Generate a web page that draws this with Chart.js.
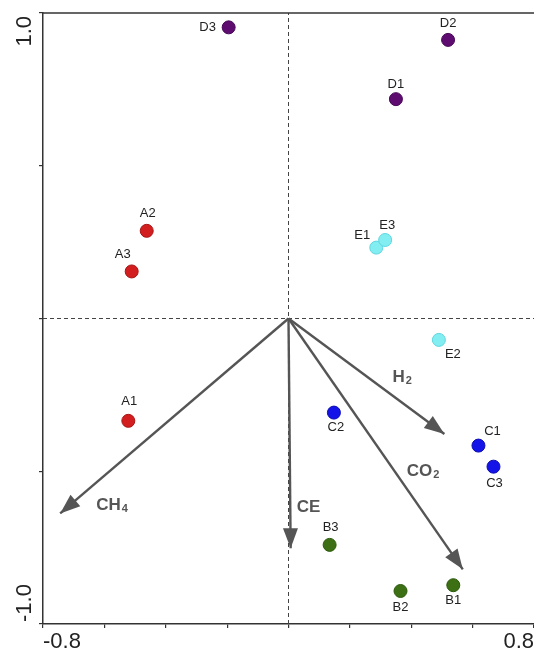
<!DOCTYPE html>
<html>
<head>
<meta charset="utf-8">
<script src="https://cdn.jsdelivr.net/npm/chart.js@4.4.1/dist/chart.umd.min.js"></script>
<style>
  html, body { margin: 0; padding: 0; background: #fff; overflow: hidden; }
  #wrap { width: 534px; height: 654px; position: relative; }
</style>
</head>
<body>
<div id="wrap"><canvas id="myChart"></canvas></div>
<script>
// sample scores (axis 1, axis 2)
const sampleLabels = ['A1', 'A2', 'A3', 'B1', 'B2', 'B3', 'C1', 'C2', 'C3', 'D1', 'D2', 'D3', 'E1', 'E2', 'E3'];
const axis1 = [-0.522, -0.462, -0.511, 0.537, 0.365, 0.134, 0.619, 0.148, 0.668, 0.350, 0.520, -0.195, 0.286, 0.490, 0.315];
const axis2 = [-0.335, 0.287, 0.154, -0.873, -0.892, -0.741, -0.416, -0.308, -0.485, 0.718, 0.912, 0.953, 0.232, -0.070, 0.257];

// environmental vectors
const envNames = ['CH4', 'CE', 'H2', 'CO2'];
const envAxis1 = [-0.744, 0.007, 0.508, 0.568];
const envAxis2 = [-0.638, -0.752, -0.378, -0.821];

// axis tick labels
const xTickLabels = ['-0.8', '0.8'];
const yTickLabels = ['1.0', '-1.0'];

const groupColors = {
  A: ['#d21e1e', '#a81414'],
  B: ['#3d7014', '#2c5a0c'],
  C: ['#1414e8', '#0c0cb4'],
  D: ['#5e0c70', '#470858'],
  E: ['#82eef2', '#5fd6de']
};

// where each sample label sits relative to its dot (pixels)
const labelOffset = {
  A1: [1, -19], A2: [1, -17], A3: [-9, -17],
  B1: [0, 15], B2: [0, 16], B3: [1, -17],
  C1: [14, -14], C2: [2, 15], C3: [1, 17],
  D1: [0, -15], D2: [0, -16], D3: [-21, 0],
  E1: [-14, -12], E2: [14, 15], E3: [2, -15]
};

// where each vector label sits relative to the arrow tip (pixels)
const envLabelOffset = {
  CH4: [36, -8], CE: [6, -41], H2: [-52, -57], CO2: [-56, -98]
};

const datasets = [];

Object.keys(groupColors).forEach(g => {
  const pts = [];
  const names = [];
  sampleLabels.forEach((s, i) => {
    if (s[0] === g) {
      pts.push({ x: axis1[i], y: axis2[i] });
      names.push(s);
    }
  });
  datasets.push({
    type: 'scatter',
    data: pts,
    names: names,
    backgroundColor: groupColors[g][0],
    borderColor: groupColors[g][1],
    borderWidth: 1,
    pointRadius: 6.5,
    order: 0
  });
});

envNames.forEach((n, i) => {
  datasets.push({
    type: 'line',
    data: [{ x: 0, y: 0 }, { x: envAxis1[i], y: envAxis2[i] }],
    envName: n,
    borderColor: '#555',
    borderWidth: 2.4,
    pointRadius: 0,
    fill: false,
    order: 1
  });
});

// dashed zero lines
datasets.push({
  type: 'line',
  data: [{ x: 0, y: -1 }, { x: 0, y: 1 }],
  borderColor: '#444', borderWidth: 1, borderDash: [4, 3],
  pointRadius: 0, order: 2
});
datasets.push({
  type: 'line',
  data: [{ x: -0.8, y: 0 }, { x: 0.8, y: 0 }],
  borderColor: '#444', borderWidth: 1, borderDash: [4, 3],
  pointRadius: 0, order: 2
});

const FONT = '"Liberation Sans", Arial, sans-serif';

const biplotPlugin = {
  id: 'biplot',
  afterDatasetsDraw(chart) {
    const ctx = chart.ctx;
    const xs = chart.scales.x, ys = chart.scales.y;

    // arrow heads and vector labels
    chart.data.datasets.forEach((ds, di) => {
      if (!ds.envName) return;
      const p0 = ds.data[0], p1 = ds.data[1];
      const x0 = xs.getPixelForValue(p0.x), y0 = ys.getPixelForValue(p0.y);
      const x1 = xs.getPixelForValue(p1.x), y1 = ys.getPixelForValue(p1.y);
      const a = Math.atan2(y1 - y0, x1 - x0);
      const len = 20, half = 7.5;
      ctx.save();
      ctx.fillStyle = '#555';
      ctx.beginPath();
      ctx.moveTo(x1, y1);
      ctx.lineTo(x1 - len * Math.cos(a) + half * Math.sin(a), y1 - len * Math.sin(a) - half * Math.cos(a));
      ctx.lineTo(x1 - len * Math.cos(a) - half * Math.sin(a), y1 - len * Math.sin(a) + half * Math.cos(a));
      ctx.closePath();
      ctx.fill();

      const off = envLabelOffset[ds.envName];
      const m = ds.envName.match(/^(.*?)(\d*)$/);
      let tx = x1 + off[0];
      const ty = y1 + off[1];
      ctx.fillStyle = '#555';
      ctx.textBaseline = 'middle';
      ctx.textAlign = 'left';
      ctx.font = 'bold 17px ' + FONT;
      ctx.fillText(m[1], tx, ty);
      tx += ctx.measureText(m[1]).width + 1;
      if (m[2]) {
        ctx.font = 'bold 11px ' + FONT;
        ctx.fillText(m[2], tx, ty + 4);
      }
      ctx.restore();
    });

    // sample labels
    ctx.save();
    ctx.font = '13px ' + FONT;
    ctx.fillStyle = '#222';
    ctx.textAlign = 'center';
    ctx.textBaseline = 'middle';
    chart.data.datasets.forEach((ds, di) => {
      if (!ds.names) return;
      const meta = chart.getDatasetMeta(di);
      meta.data.forEach((el, j) => {
        const off = labelOffset[ds.names[j]];
        ctx.fillText(ds.names[j], el.x + off[0], el.y + off[1]);
      });
    });
    ctx.restore();
  },
  afterDraw(chart) {
    const ctx = chart.ctx;
    const area = chart.chartArea;
    const xs = chart.scales.x, ys = chart.scales.y;
    ctx.save();
    // top frame line
    ctx.strokeStyle = '#333';
    ctx.lineWidth = 1.5;
    ctx.beginPath();
    ctx.moveTo(area.left, area.top);
    ctx.lineTo(area.right, area.top);
    ctx.stroke();

    ctx.fillStyle = '#222';
    ctx.font = '22px ' + FONT;
    ctx.textBaseline = 'middle';
    ctx.textAlign = 'left';
    ctx.fillText(xTickLabels[0], xs.getPixelForValue(-0.8), area.bottom + 18);
    ctx.textAlign = 'right';
    ctx.fillText(xTickLabels[1], xs.getPixelForValue(0.8), area.bottom + 18);

    ctx.translate(25, 0);
    ctx.rotate(-Math.PI / 2);
    ctx.textAlign = 'right';
    ctx.fillText(yTickLabels[0], -(ys.getPixelForValue(1) + 3), 0);
    ctx.textAlign = 'left';
    ctx.fillText(yTickLabels[1], -(ys.getPixelForValue(-1) - 2), 0);
    ctx.restore();
  }
};

const ctx = document.getElementById('myChart').getContext('2d');
window.myBiplot = new Chart(ctx, {
  data: { datasets: datasets },
  options: {
    responsive: true,
    maintainAspectRatio: false,
    animation: false,
    layout: { autoPadding: false, padding: { top: 13, right: 0, left: 0, bottom: 0 } },
    plugins: { legend: { display: false }, tooltip: { enabled: false } },
    scales: {
      x: {
        type: 'linear',
        min: -0.8,
        max: 0.8,
        ticks: { stepSize: 0.2, display: false },
        grid: { drawOnChartArea: false, drawTicks: true, tickLength: 4, color: '#333', lineWidth: 1.2 },
        border: { display: true, color: '#333', width: 1.5 },
        afterFit(scale) { scale.height = 30; }
      },
      y: {
        type: 'linear',
        min: -1,
        max: 1,
        ticks: { stepSize: 0.5, display: false },
        grid: { drawOnChartArea: false, drawTicks: true, tickLength: 4, color: '#333', lineWidth: 1.2 },
        border: { display: true, color: '#333', width: 1.5 },
        afterFit(scale) { scale.width = 43; }
      }
    }
  },
  plugins: [biplotPlugin]
});
</script>
</body>
</html>
